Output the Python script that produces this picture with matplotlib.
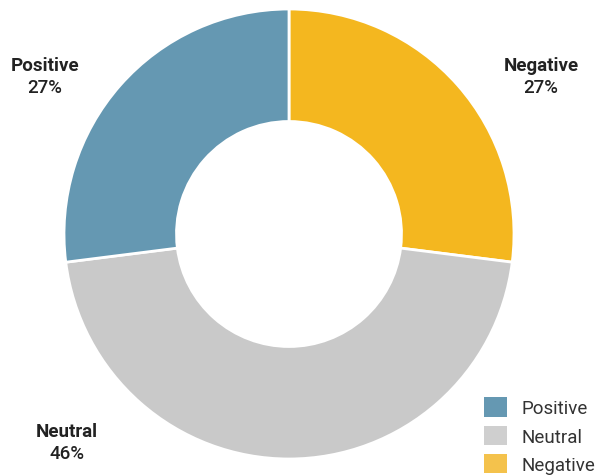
import matplotlib.pyplot as plt
from matplotlib.patches import Patch

# sentiment shares, clockwise from the top
labels = ["Negative", "Neutral", "Positive"]
shares = [27, 46, 27]
colors = ["#f4b71f", "#c9c9c9", "#6598b2"]
legend_colors = {"Positive": "#6598b2", "Neutral": "#cfcfcf", "Negative": "#f4c24c"}

plt.rcParams["font.family"] = ["Roboto", "DejaVu Sans"]

fig = plt.figure(figsize=(6, 4.77), dpi=100)
cx, cy, r = 289, 235, 225
ax = fig.add_axes([(cx - r) / 600, (477 - cy - r) / 477, 2 * r / 600, 2 * r / 477])

ax.pie(shares, colors=colors, startangle=90, counterclock=False,
       wedgeprops=dict(width=0.5, edgecolor="white", linewidth=2))
ax.set_aspect("equal")
ax.set_xlim(-1, 1)
ax.set_ylim(-1, 1)

# outside labels: name in bold, percentage below
label_pos = {"Positive": (45, 66), "Negative": (541, 66), "Neutral": (67, 432)}
for name, val in zip(labels, shares):
    x, y = label_pos[name]
    fig.text(x / 600, 1 - y / 477, name, ha="center", va="center",
             fontsize=13.5, fontweight="bold", color="#222222")
    fig.text(x / 600, 1 - (y + 22) / 477, f"{val}%", ha="center", va="center",
             fontsize=13.5, fontweight="medium", color="#222222")

handles = [Patch(facecolor=legend_colors[n], label=n) for n in ["Positive", "Neutral", "Negative"]]
fig.legend(handles=handles, loc="lower left", bbox_to_anchor=(484 / 600, 2 / 477),
           frameon=False, fontsize=13.5, handlelength=1.2, handleheight=1.2,
           handletextpad=0.8, labelspacing=0.45, borderpad=0, borderaxespad=0,
           labelcolor="#333333")

fig.savefig("out.png", dpi=100)
